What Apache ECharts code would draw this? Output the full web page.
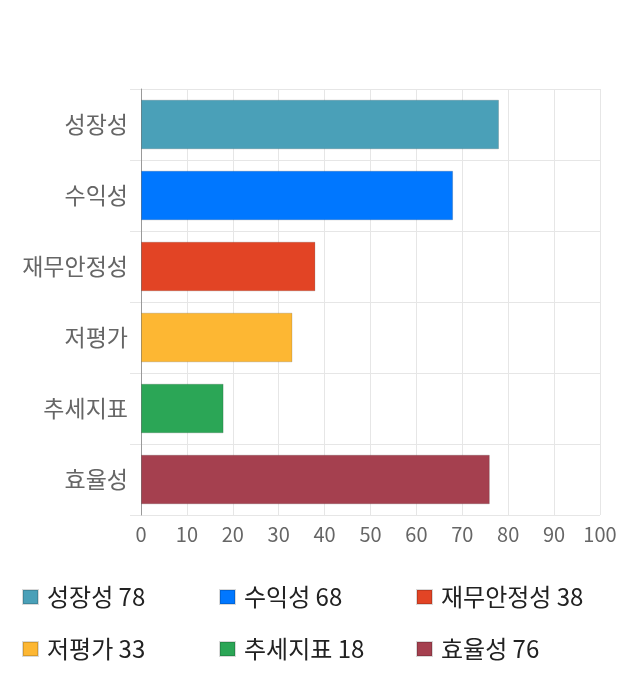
<!DOCTYPE html>
<html><head><meta charset="utf-8">
<script src="https://cdn.jsdelivr.net/npm/echarts@6/dist/echarts.min.js"></script>
<style>html,body{margin:0;padding:0;background:#fff}#c{width:640px;height:700px}</style>
</head><body><div id="c"></div>
<script>
const categories = ['성장성','수익성','재무안정성','저평가','추세지표','효율성'];
const values = [78, 68, 38, 33, 18, 76];
const colors = ['#4aa0b8','#0077ff','#e24425','#fdb733','#2ba656','#a5404f'];
const xTicks = {min:0, max:100, interval:10};
const FONT = '"Noto Sans CJK KR","Noto Sans",sans-serif';

const series = categories.map((name, i) => ({
  name: name,
  type: 'bar',
  stack: 'all',
  barWidth: '70%',
  data: categories.map((c, j) => j === i ? values[i] : null),
  itemStyle: {color: colors[i], borderColor: 'rgba(0,0,0,0.15)', borderWidth: 1}
}));

const legendCols = [[0,3],[1,4],[2,5]];
const legendLeft = [17, 214, 411];
const legends = legendCols.map((idx, k) => ({
  orient: 'vertical',
  left: legendLeft[k],
  top: 580,
  itemWidth: 15,
  itemHeight: 14,
  itemGap: 28,
  icon: 'rect',
  selectedMode: false,
  data: idx.map(i => categories[i]),
  formatter: n => n + ' ' + values[categories.indexOf(n)],
  textStyle: {fontFamily: FONT, fontSize: 24, color: '#222', padding: [0,0,0,4]}
}));

const chart = echarts.init(document.getElementById('c'));
chart.setOption({
  animation: false,
  color: colors,
  grid: {left: 141, right: 40, top: 89, bottom: 185, containLabel: false},
  xAxis: {
    type: 'value', min: xTicks.min, max: xTicks.max, interval: xTicks.interval,
    axisLine: {show: false}, axisTick: {show: false},
    splitLine: {lineStyle: {color: '#e6e6e6'}},
    axisLabel: {fontFamily: FONT, fontSize: 20, color: '#666', margin: 9}
  },
  yAxis: {
    type: 'category', data: categories, inverse: true,
    axisLine: {lineStyle: {color: '#999'}},
    axisTick: {show: true, length: 11, lineStyle: {color: '#e6e6e6'}},
    splitLine: {show: true, lineStyle: {color: '#e6e6e6'}},
    axisLabel: {fontFamily: FONT, fontSize: 23, color: '#666', margin: 13}
  },
  legend: legends,
  series: series
});
</script></body></html>
